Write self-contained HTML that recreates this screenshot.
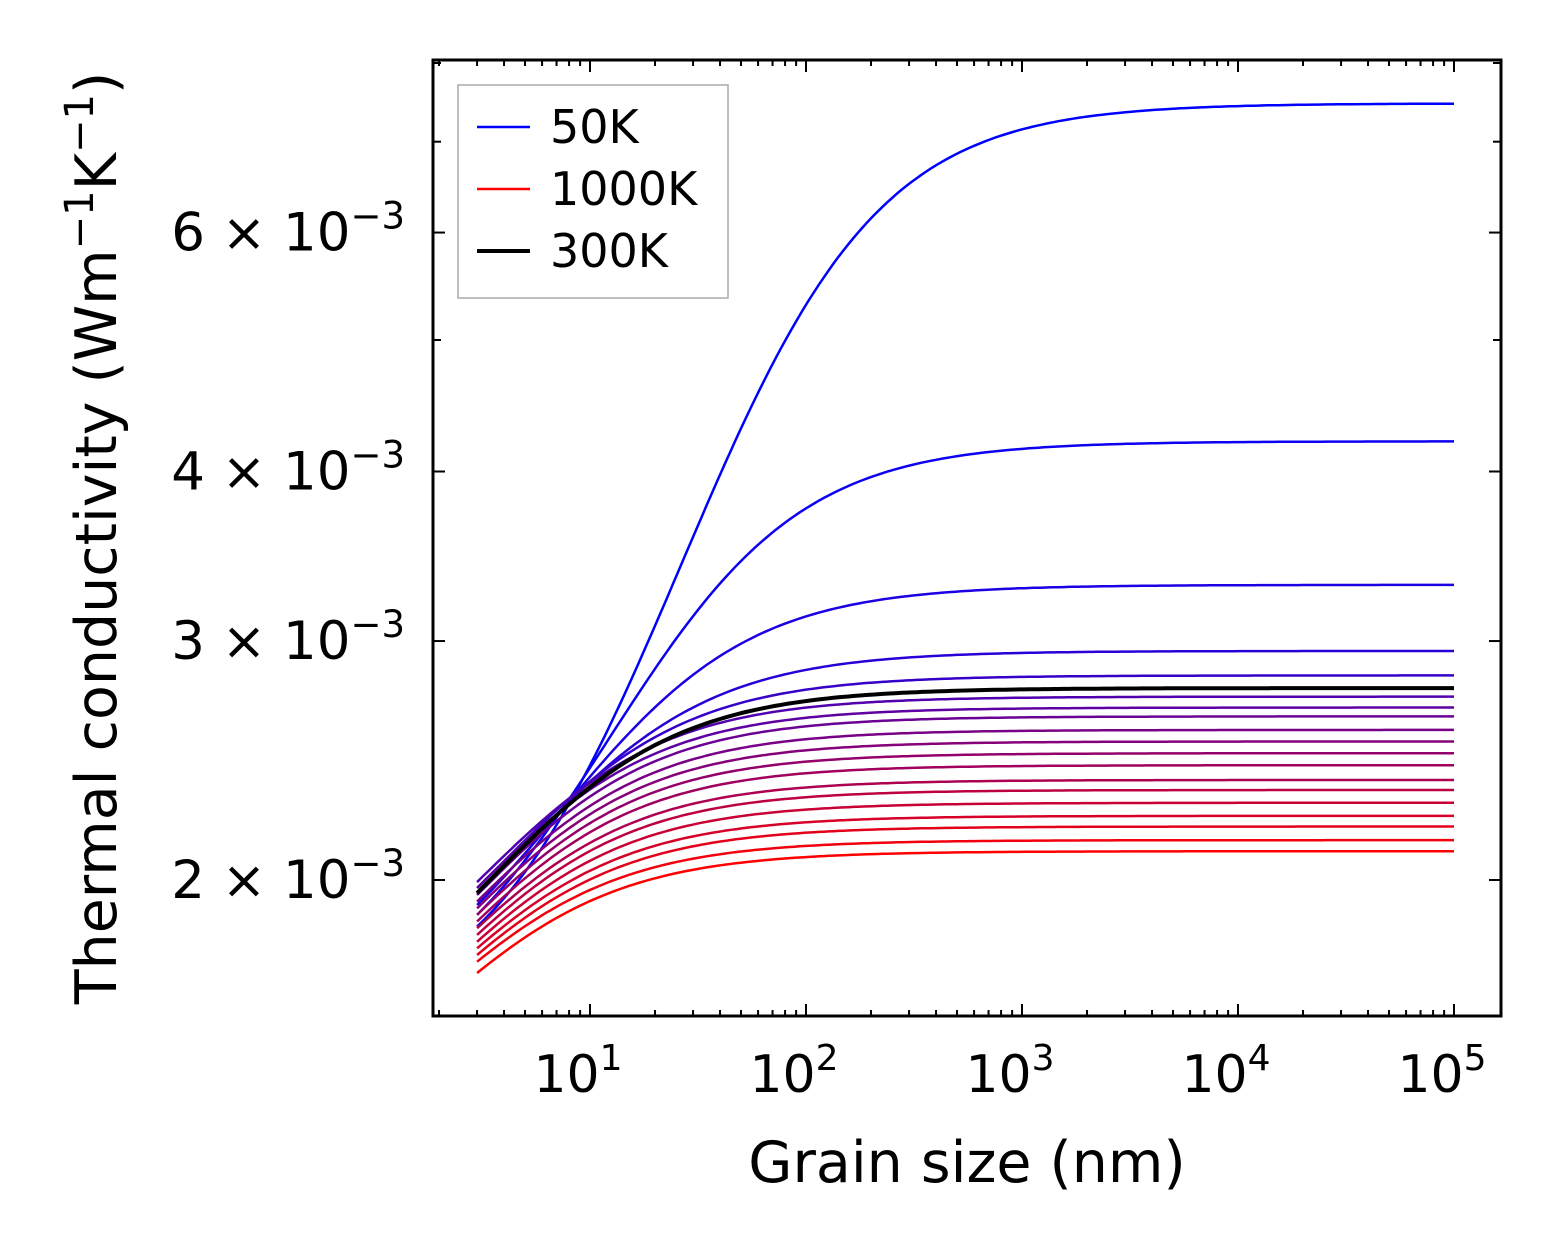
<!DOCTYPE html>
<html><head><meta charset="utf-8"><style>
html,body{margin:0;padding:0;background:#fff;width:1563px;height:1254px;overflow:hidden}
svg text{font-family:"DejaVu Sans","Liberation Sans",sans-serif;fill:#000}
</style></head><body>
<svg id="chart" width="1563" height="1254" viewBox="0 0 1563 1254" xmlns="http://www.w3.org/2000/svg">
<rect width="1563" height="1254" fill="#fff"/>
<g id="curves"></g>
<g id="axes"></g>
<text x="967" y="1182" font-size="57" text-anchor="middle">Grain size (nm)</text>
<text transform="translate(116,538) rotate(-90)" font-size="57" text-anchor="middle">Thermal conductivity (Wm<tspan font-size="40" dy="-23">−1</tspan><tspan dy="23">K</tspan><tspan font-size="40" dy="-23">−1</tspan><tspan dy="23">)</tspan></text>
<g>
<rect x="458" y="85" width="270" height="213" fill="#fff" stroke="#aaa" stroke-width="1.5"/>
<line x1="477" y1="127" x2="530" y2="127" stroke="#0000ff" stroke-width="2.5"/>
<text x="550" y="143" font-size="46">50K</text>
<line x1="477" y1="189" x2="530" y2="189" stroke="#ff0000" stroke-width="2.5"/>
<text x="550" y="205" font-size="46">1000K</text>
<line x1="477" y1="251" x2="530" y2="251" stroke="#000" stroke-width="4"/>
<text x="550" y="267" font-size="46">300K</text>
</g>
</svg>
<script>
const temps=[50,100,150,200,250,300,350,400,450,500,550,600,650,700,750,800,850,900,950,1000];
const kInf=[7.47,4.21,3.30,2.95,2.83,2.77,2.73,2.68,2.64,2.58,2.53,2.48,2.43,2.37,2.33,2.28,2.23,2.19,2.14,2.10];
const kStart=[1.848,1.885,1.917,1.950,1.973,1.956,1.993,1.973,1.950,1.928,1.906,1.885,1.864,1.843,1.822,1.801,1.781,1.761,1.741,1.708];
const lambda=[12,7.5,5,3.6,2.8,2.5,2.2,2.0,1.9,1.8,1.7,1.65,1.6,1.55,1.5,1.45,1.42,1.4,1.38,1.37];
const xTicks=[1,2,3,4,5];
const yMajor=[2,3,4,6];
const NS="http://www.w3.org/2000/svg";
const X0=433,X1=1501,Y0=60,Y1=1016;
function xs(L){return 590+216*(Math.log10(L)-1);}
function ys(k){return 880-1357*Math.log10(k/2);}
function kAt(i,L){const A=kInf[i]/kStart[i]-1;return kInf[i]/(1+A*(3+lambda[i])/(L+lambda[i]));}
function mk(tag,attrs,parent){const e=document.createElementNS(NS,tag);for(const k in attrs)e.setAttribute(k,attrs[k]);parent.appendChild(e);return e;}
const cg=document.getElementById('curves');
const order=temps.map((t,i)=>i).filter(i=>temps[i]!==300).concat([temps.indexOf(300)]);
for(const i of order){
  let d="";
  for(let s=0;s<=200;s++){const L=Math.pow(10,Math.log10(3)+s*(5-Math.log10(3))/200);d+=(s?"L":"M")+xs(L).toFixed(1)+","+ys(kAt(i,L)).toFixed(1);}
  const f=i/(temps.length-1);
  const col=temps[i]===300?"#000":`rgb(${Math.round(255*f)},0,${Math.round(255*(1-f))})`;
  const p=mk('path',{d:d,fill:"none",stroke:col,"stroke-width":temps[i]===300?4:2.5},cg);
  
  
}
const ag=document.getElementById('axes');
mk('rect',{x:X0,y:Y0,width:X1-X0,height:Y1-Y0,fill:"none",stroke:"#000","stroke-width":3},ag);
for(let e=0;e<=5;e++){for(let m=1;m<10;m++){const v=m*Math.pow(10,e);const x=xs(v);if(x<X0||x>X1)continue;const len=m===1?12:6;
  mk('line',{x1:x,y1:Y1,x2:x,y2:Y1-len,stroke:"#000","stroke-width":2},ag);
  mk('line',{x1:x,y1:Y0,x2:x,y2:Y0+len,stroke:"#000","stroke-width":2},ag);}}
for(const e of xTicks){const t=mk('text',{x:xs(Math.pow(10,e))-12,y:1092,"font-size":52,"text-anchor":"middle"},ag);t.textContent="10";
  const s=mk('tspan',{"font-size":36,dy:-22},t);s.textContent=String(e);
  }
for(let m=2;m<=8;m++){const y=ys(m);if(y<Y0||y>Y1)continue;const len=yMajor.includes(m)?12:8;
  mk('line',{x1:X0,y1:y,x2:X0+len,y2:y,stroke:"#000","stroke-width":2},ag);
  mk('line',{x1:X1,y1:y,x2:X1-len,y2:y,stroke:"#000","stroke-width":2},ag);}
for(const m of yMajor){const t=mk('text',{x:405,y:ys(m)+18,"font-size":53,"text-anchor":"end"},ag);
  t.textContent=m+" × 10";const s=mk('tspan',{"font-size":37,dy:-22},t);s.textContent="−3";
  }
</script>
</body></html>
